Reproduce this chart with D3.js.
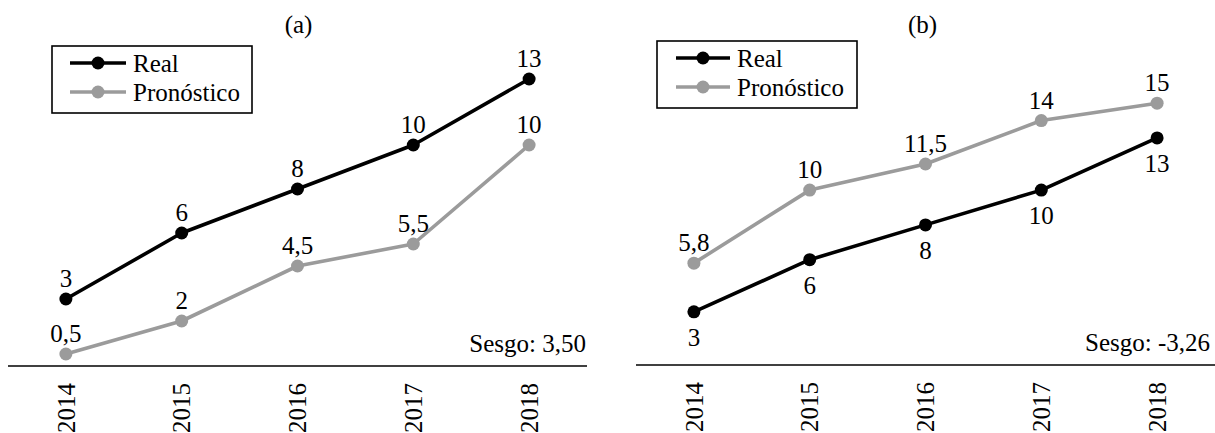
<!DOCTYPE html>
<html>
<head>
<meta charset="utf-8">
<script src="https://cdn.jsdelivr.net/npm/d3@7/dist/d3.min.js"></script>
<style>
  html, body { margin: 0; padding: 0; background: #fff; }
  svg { display: block; }
  text { font-family: "Liberation Serif", "Times New Roman", serif; fill: #000; }
</style>
</head>
<body>
<svg id="chart" width="1215" height="433"></svg>
<script>
// Years shared by both panels
const years = ["2014", "2015", "2016", "2017", "2018"];

// Panel (a)
const realA = [3, 6, 8, 10, 13];
const pronA = [0.5, 2, 4.5, 5.5, 10];
const sesgoA = "Sesgo: 3,50";

// Panel (b)
const realB = [3, 6, 8, 10, 13];
const pronB = [5.8, 10, 11.5, 14, 15];
const sesgoB = "Sesgo: -3,26";

const seriesNames = ["Real", "Pronóstico"];
const colors = { real: "#000000", pron: "#9b9b9b" };
const fmt = v => String(v).replace(".", ",");

const svg = d3.select("#chart");
const FONT = 25;

function panel(cfg) {
  const g = svg.append("g");
  const x = d3.scalePoint().domain(years).range([cfg.x0, cfg.x1]).padding(0.5);
  const y = d3.scaleLinear().domain([0, cfg.yMax]).range([cfg.yBase, cfg.yTop]);

  // panel title
  g.append("text")
    .attr("x", (cfg.x0 + cfg.x1) / 2 + cfg.titleDx)
    .attr("y", 33)
    .attr("text-anchor", "middle")
    .style("font-size", FONT + "px")
    .text(cfg.title);

  // horizontal category axis
  const axisY = y(0) + 1;
  g.append("line")
    .attr("x1", cfg.x0).attr("x2", cfg.x1)
    .attr("y1", axisY).attr("y2", axisY)
    .attr("stroke", "#000").attr("stroke-width", 1.6);

  g.selectAll("text.year")
    .data(years)
    .join("text")
    .attr("class", "year")
    .attr("transform", d => `translate(${x(d)},${axisY + 17}) rotate(-90)`)
    .attr("dy", "0.35em")
    .attr("text-anchor", "end")
    .style("font-size", FONT + "px")
    .text(d => d);

  // bias note
  g.append("text")
    .attr("x", cfg.sesgoX)
    .attr("y", axisY - 14)
    .attr("text-anchor", "end")
    .style("font-size", FONT + "px")
    .text(cfg.sesgo);

  const line = d3.line().x((d, i) => x(years[i])).y(d => y(d));

  const series = [
    { key: "pron", values: cfg.pron, color: colors.pron, labelPos: cfg.pronLabel },
    { key: "real", values: cfg.real, color: colors.real, labelPos: cfg.realLabel }
  ];

  series.forEach(s => {
    g.append("path")
      .datum(s.values)
      .attr("fill", "none")
      .attr("stroke", s.color)
      .attr("stroke-width", 3.6)
      .attr("stroke-linejoin", "round")
      .attr("d", line);

    g.selectAll(null)
      .data(s.values)
      .join("circle")
      .attr("cx", (d, i) => x(years[i]))
      .attr("cy", d => y(d))
      .attr("r", 6.5)
      .attr("fill", s.color);

    g.selectAll(null)
      .data(s.values)
      .join("text")
      .attr("x", (d, i) => x(years[i]))
      .attr("y", d => s.labelPos === "above" ? y(d) - 12 : y(d) + 34)
      .attr("text-anchor", "middle")
      .style("font-size", FONT + "px")
      .text(d => fmt(d));
  });

  // legend
  const lg = g.append("g").attr("transform", `translate(${cfg.legX},${cfg.legY})`);
  lg.append("rect")
    .attr("x", 0).attr("y", 0)
    .attr("width", 200).attr("height", 67)
    .attr("fill", "#fff")
    .attr("stroke", "#000").attr("stroke-width", 1.6);
  [colors.real, colors.pron].forEach((c, i) => {
    const ry = 17 + i * 29;
    lg.append("line")
      .attr("x1", cfg.legLine[0]).attr("x2", cfg.legLine[1])
      .attr("y1", ry).attr("y2", ry)
      .attr("stroke", c).attr("stroke-width", 3.6);
    lg.append("circle")
      .attr("cx", (cfg.legLine[0] + cfg.legLine[1]) / 2)
      .attr("cy", ry).attr("r", 6.5).attr("fill", c);
    lg.append("text")
      .attr("x", cfg.legLine[1] + 7)
      .attr("y", ry + 9)
      .style("font-size", FONT + "px")
      .text(seriesNames[i]);
  });
}

panel({
  title: "(a)", titleDx: 1,
  x0: 8, x1: 587, yBase: 365, yTop: 57, yMax: 14,
  real: realA, pron: pronA, realLabel: "above", pronLabel: "above",
  sesgo: sesgoA, sesgoX: 586,
  legX: 52, legY: 46, legLine: [18, 74]
});

panel({
  title: "(b)", titleDx: -3,
  x0: 636, x1: 1215, yBase: 364, yTop: 51, yMax: 18,
  real: realB, pron: pronB, realLabel: "below", pronLabel: "above",
  sesgo: sesgoB, sesgoX: 1210,
  legX: 657, legY: 41, legLine: [19, 73]
});
</script>
</body>
</html>
